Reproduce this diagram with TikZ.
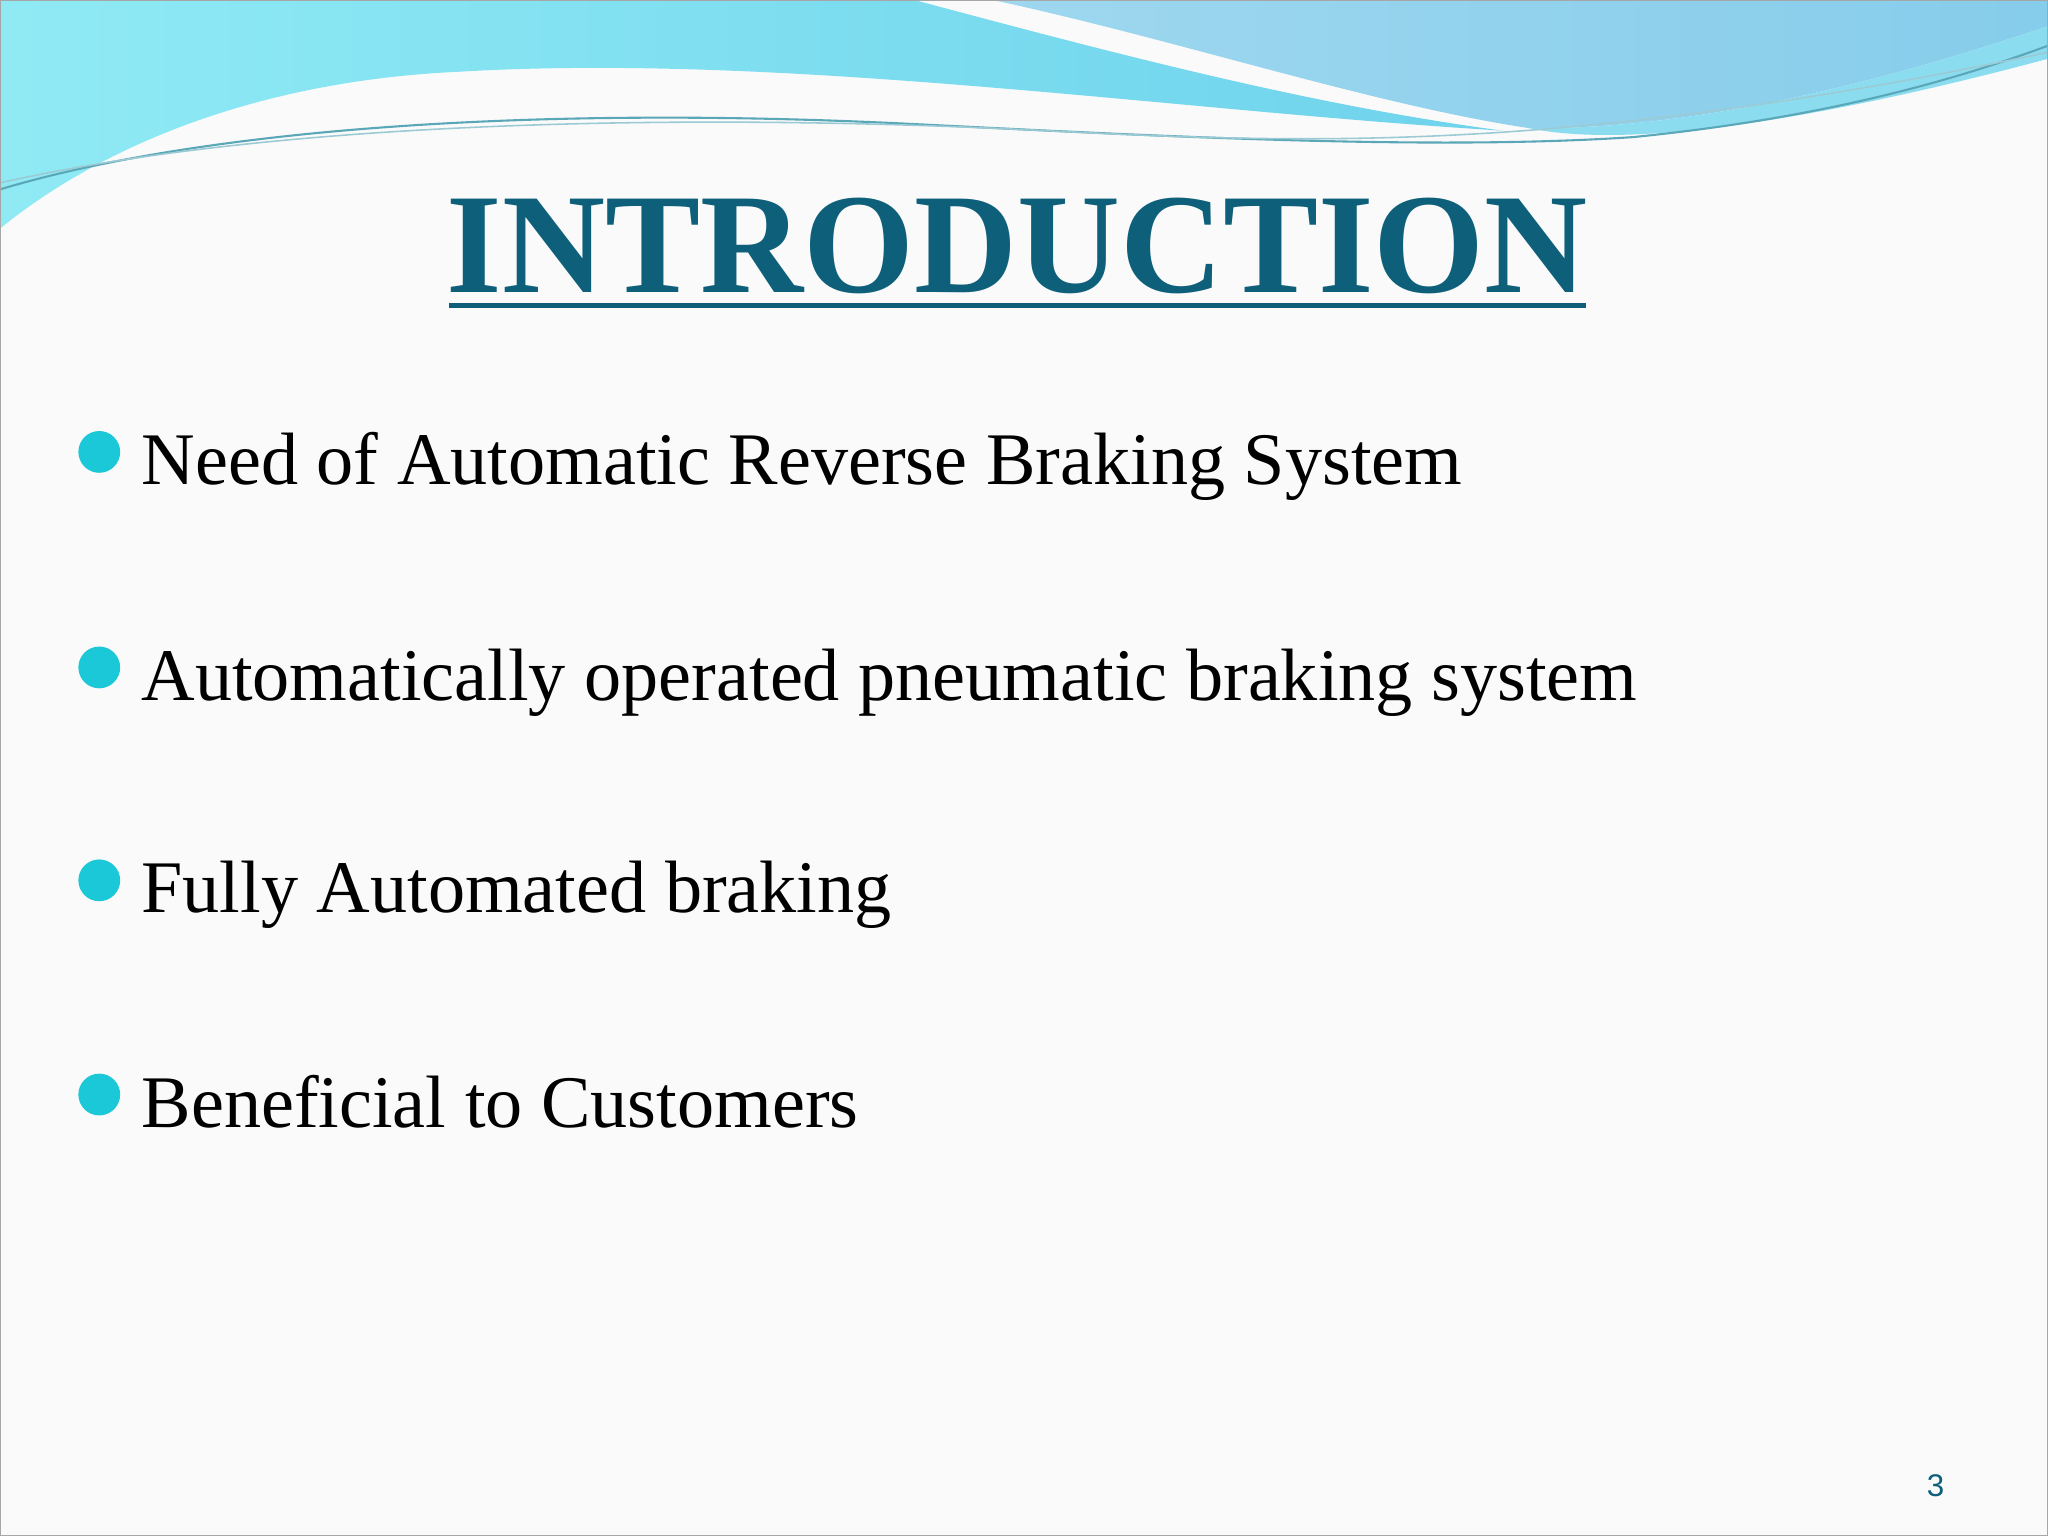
\documentclass[tikz,border=0pt]{standalone}
\usepackage{fontspec}
\setmainfont{Liberation Serif}
\newfontfamily\pgnum{Liberation Sans}
\definecolor{titlec}{HTML}{0E5F7A}
\definecolor{bul}{HTML}{1BC8D8}
\definecolor{cyanA}{HTML}{8FEAF4}
\definecolor{cyanB}{HTML}{6FD3EC}
\definecolor{blueA}{HTML}{86CDEB}
\definecolor{lineC}{HTML}{5AA7B8}
\tikzset{x=0.5pt,y=-0.5pt,
 bullet/.style={circle,fill=bul,minimum size=16pt,inner sep=0pt},
 item/.style={anchor=base west,inner sep=0pt,font=\fontsize{28.4}{34}\selectfont}}
\begin{document}
\begin{tikzpicture}
\useasboundingbox (0,0) rectangle (1568,1176);
\fill[white!96!gray] (0,0) rectangle (1568,1176);
% waves
\shade[left color=cyanA,right color=cyanB] (0,0) -- (700,0) .. controls (850,40) and (1000,80) .. (1150,100) .. controls (900,85) and (600,40) .. (350,55) .. controls (200,62) and (80,110) .. (0,175) -- cycle;
\shade[left color=blueA!80!white,right color=blueA] (760,0) -- (1568,0) -- (1568,20) .. controls (1450,60) and (1300,100) .. (1170,98) .. controls (1050,80) and (900,30) .. (760,0) -- cycle;
\fill[cyanB!80!white] (1568,20) .. controls (1450,60) and (1300,100) .. (1170,98) .. controls (1250,115) and (1400,90) .. (1568,45) -- cycle;
\draw[lineC,line width=0.8pt] (0,145) .. controls (150,100) and (400,80) .. (700,95) .. controls (900,105) and (1100,115) .. (1250,105) .. controls (1400,90) and (1500,60) .. (1568,35);
\draw[lineC!60,line width=0.6pt] (0,140) .. controls (200,95) and (500,85) .. (800,100) .. controls (1000,110) and (1200,118) .. (1568,40);
\draw[gray!70,line width=0.5pt] (0,0) rectangle (1568,1176);
% title
\node[anchor=base,inner sep=0pt,text=titlec,font=\fontsize{54.6}{62}\selectfont\bfseries] (title) at (779,224) {INTRODUCTION};
\draw[titlec,line width=2pt] ([xshift=1pt,yshift=-5pt]title.base west) coordinate (ul1) -- ([xshift=-1pt,yshift=-5pt]title.base east) coordinate (ul2);
% bullets
\node[bullet] (b1) at (76,346) {};
\node[item] (t1) at (108,371) {Need of Automatic Reverse Braking System};
\node[bullet] (b2) at (76,511) {};
\node[item] (t2) at (108,536) {Automatically operated pneumatic braking system};
\node[bullet] (b3) at (76,674) {};
\node[item] (t3) at (108,699) {Fully Automated braking};
\node[bullet] (b4) at (76,838) {};
\node[item] (t4) at (108,863) {Beneficial to Customers};
\node[anchor=base,inner sep=0pt,text=titlec,font=\pgnum\fontsize{12}{14}\selectfont] (pg) at (1482,1146) {3};
\end{tikzpicture}
\end{document}
